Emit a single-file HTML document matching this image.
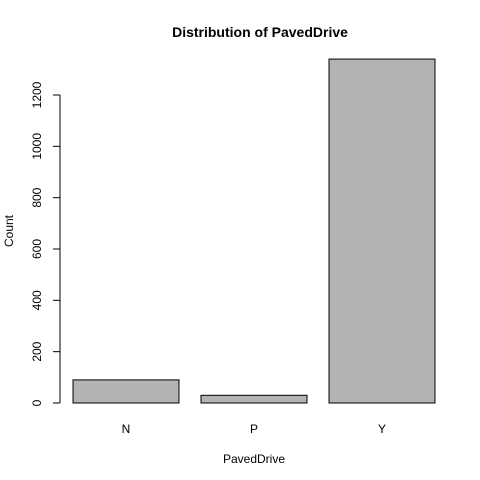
<!DOCTYPE html>
<html><head><meta charset="utf-8"><style>
html,body{margin:0;padding:0;background:#fff;}
svg{display:block;font-family:"Liberation Sans",Arial,sans-serif;}
</style></head><body>
<svg id="chart" width="480" height="480" viewBox="0 0 480 480">
<text x="260" y="37" text-anchor="middle" font-size="14" font-weight="bold">Distribution of PavedDrive</text>
<text x="254" y="463" text-anchor="middle" font-size="12">PavedDrive</text>
<text transform="translate(13,231) rotate(-90)" text-anchor="middle" font-size="12">Count</text>
<g id="bars"></g>
<g id="yaxis"></g>
</svg>
<script>
const categories = ["N", "P", "Y"];
const counts = [90, 30, 1340];
const yTicks = [0, 200, 400, 600, 800, 1000, 1200];

const NS = "http://www.w3.org/2000/svg";
const y0 = 403, pxPerUnit = 308 / 1200;
function yScale(v){ return y0 - v * pxPerUnit; }
const barW = 106, gap = 22, x0 = 73;
function xScale(i){ return x0 + i * (barW + gap); }

const bars = document.getElementById("bars");
categories.forEach((c, i) => {
  const r = document.createElementNS(NS, "rect");
  r.setAttribute("x", xScale(i));
  r.setAttribute("y", yScale(counts[i]));
  r.setAttribute("width", barW);
  r.setAttribute("height", y0 - yScale(counts[i]));
  r.setAttribute("fill", "#b3b3b3");
  r.setAttribute("stroke", "#000");
  r.setAttribute("stroke-width", "1");
  
  
  bars.appendChild(r);
  const t = document.createElementNS(NS, "text");
  t.setAttribute("x", xScale(i) + barW / 2);
  t.setAttribute("y", 433);
  t.setAttribute("text-anchor", "middle");
  t.setAttribute("font-size", "12");
  t.textContent = c;
  
  
  bars.appendChild(t);
});

const ya = document.getElementById("yaxis");
const line = document.createElementNS(NS, "line");
line.setAttribute("x1", 60); line.setAttribute("x2", 60);
line.setAttribute("y1", yScale(yTicks[0])); line.setAttribute("y2", yScale(yTicks[yTicks.length - 1]));
line.setAttribute("stroke", "#000");


ya.appendChild(line);
yTicks.forEach(v => {
  const tk = document.createElementNS(NS, "line");
  tk.setAttribute("x1", 53); tk.setAttribute("x2", 60);
  tk.setAttribute("y1", yScale(v)); tk.setAttribute("y2", yScale(v));
  tk.setAttribute("stroke", "#000");
  
  
  ya.appendChild(tk);
  const t = document.createElementNS(NS, "text");
  t.setAttribute("transform", "translate(41," + yScale(v) + ") rotate(-90)");
  t.setAttribute("text-anchor", "middle");
  t.setAttribute("font-size", "12");
  t.textContent = v;
  
  
  ya.appendChild(t);
});
</script>
</body></html>
